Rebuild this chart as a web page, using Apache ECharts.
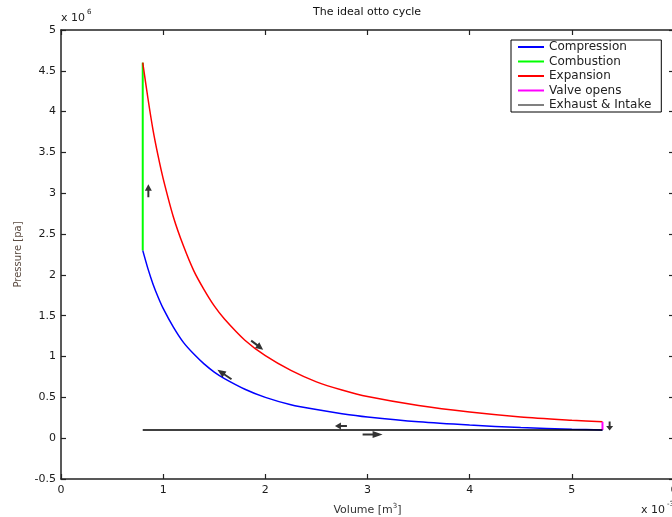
<!DOCTYPE html>
<html><head><meta charset="utf-8">
<script src="https://cdn.jsdelivr.net/npm/echarts@6/dist/echarts.min.js"></script>
<style>html,body{margin:0;padding:0;background:#fff}#c{width:672px;height:517px}</style>
</head><body><div id="c"></div>
<script>
// Volume in units of 1e-3 m^3, pressure in units of 1e6 Pa
const volume       = [0.8, 0.85, 0.9, 0.95, 1.0, 1.1, 1.2, 1.3, 1.4, 1.5, 1.6, 1.8, 2.0, 2.25, 2.5, 2.75, 3.0, 3.5, 4.0, 4.5, 5.0, 5.3];
const compressionP = [2.30, 2.08, 1.89, 1.73, 1.59, 1.36, 1.17, 1.03, 0.91, 0.81, 0.73, 0.60, 0.50, 0.41, 0.35, 0.30, 0.26, 0.20, 0.16, 0.13, 0.11, 0.10];
const expansionP   = [4.60, 4.17, 3.78, 3.46, 3.18, 2.71, 2.35, 2.05, 1.82, 1.62, 1.46, 1.20, 1.01, 0.83, 0.69, 0.59, 0.51, 0.40, 0.32, 0.26, 0.22, 0.20];
const combustion    = [[0.8, 2.3], [0.8, 4.6]];
const valveOpens    = [[5.3, 0.2], [5.3, 0.1]];
const exhaustIntake = [[5.3, 0.1], [0.8, 0.1]];
// direction arrows: [volume, pressure, direction angle (deg, ccw from up)]
const arrows = [[0.855, 3.03, 0], [1.92, 1.14, -127], [1.60, 0.78, 56], [2.74, 0.15, 90], [3.05, 0.045, -90], [5.37, 0.15, 180]];
const arrowLen = [13, 15, 17, 12, 20, 9];
const seriesNames = ['Compression', 'Combustion', 'Expansion', 'Valve opens', 'Exhaust & Intake'];
const seriesColors = ['#0000ff', '#00ff00', '#ff0000', '#ff00ff', '#000000'];
const titleText = 'The ideal otto cycle';
const xName = 'Volume [m';
const yName = 'Pressure [pa]';

const FF = 'DejaVu Sans';
const chart = echarts.init(document.getElementById('c'), null, {renderer: 'canvas'});

const lineData = [
  volume.map((v, i) => [v, compressionP[i]]),
  combustion,
  volume.map((v, i) => [v, expansionP[i]]),
  valveOpens,
  exhaustIntake
];
const series = seriesNames.map((n, i) => ({
  name: n, type: 'line', data: lineData[i], showSymbol: false,
  smooth: (i === 0 || i === 2) ? 0.25 : false,
  color: seriesColors[i],
  lineStyle: {color: seriesColors[i], width: (i === 1 || i === 3) ? 2 : 1.5},
  z: 3, animation: false
}));
const arrowPath = 'path://M0,0 L5,7 L1.4,7 L1.4,14 L-1.4,14 L-1.4,7 L-5,7 Z';
series.push({
  type: 'scatter', silent: true, animation: false, z: 5,
  data: arrows.map((a, i) => ({
    value: [a[0], a[1]], symbol: arrowPath, symbolSize: [7, arrowLen[i]], symbolRotate: a[2]
  })),
  itemStyle: {color: '#000'}
});

const axisLineStyle = {color: '#222', width: 1.5};
const tickCommon = {show: true, inside: true, length: 5, lineStyle: {color: '#222', width: 1.2}};
const labelStyle = {color: '#1a1a1a', fontSize: 11, fontFamily: FF};

chart.setOption({
  animation: false,
  backgroundColor: '#fff',
  grid: {left: 61, right: -2, top: 30, bottom: 38, containLabel: false, outerBoundsMode: 'none'},
  legend: {
    orient: 'vertical', left: 511, top: 40,
    icon: 'rect', itemWidth: 26, itemHeight: 2, itemGap: 2.5,
    padding: [1, 10, 1, 7],
    borderColor: '#000', borderWidth: 1, backgroundColor: '#fff',
    textStyle: {fontSize: 12, lineHeight: 12, fontFamily: FF, color: '#222'},
    data: seriesNames.map((n, i) => i === 4 ? {name: n, itemStyle: {color: '#808080'}} : {name: n}),
    selectedMode: false
  },
  xAxis: [
    {type: 'value', min: 0, max: 6, interval: 1, position: 'bottom',
     axisLine: {show: true, onZero: false, lineStyle: axisLineStyle}, axisTick: tickCommon,
     axisLabel: Object.assign({margin: 6}, labelStyle), splitLine: {show: false},
     name: '{a|' + xName + '}{s|3}{a|]}', nameLocation: 'middle', nameGap: 24,
     nameTextStyle: {rich: {a: {fontSize: 11, fontFamily: FF, color: '#333', lineHeight: 14},
                            s: {fontSize: 7, fontFamily: FF, color: '#333', verticalAlign: 'top', lineHeight: 8}}}},
    {type: 'value', min: 0, max: 6, interval: 1, position: 'top',
     axisLine: {show: true, onZero: false, lineStyle: axisLineStyle}, axisTick: tickCommon,
     axisLabel: {show: false}, splitLine: {show: false}}
  ],
  yAxis: [
    {type: 'value', min: -0.5, max: 5, interval: 0.5, position: 'left',
     axisLine: {show: true, onZero: false, lineStyle: axisLineStyle}, axisTick: tickCommon,
     axisLabel: Object.assign({margin: 5}, labelStyle), splitLine: {show: false},
     name: yName, nameLocation: 'middle', nameGap: 36, nameRotate: 90,
     nameTextStyle: {fontSize: 10, fontFamily: FF, color: '#5a4a40'}},
    {type: 'value', min: -0.5, max: 5, interval: 0.5, position: 'right',
     axisLine: {show: true, onZero: false, lineStyle: axisLineStyle}, axisTick: tickCommon,
     axisLabel: {show: false}, splitLine: {show: false}}
  ],
  graphic: [
    {type: 'text', x: 367, y: 12, style: {text: titleText, fill: '#111', font: '11px "DejaVu Sans"', textAlign: 'center', textVerticalAlign: 'middle'}},
    {type: 'text', x: 61, y: 18, style: {text: 'x 10', fill: '#222', font: '11px "DejaVu Sans"', textAlign: 'left', textVerticalAlign: 'middle'}},
    {type: 'text', x: 87, y: 12, style: {text: '6', fill: '#222', font: '7px "DejaVu Sans"', textAlign: 'left', textVerticalAlign: 'middle'}},
    {type: 'text', x: 641, y: 510, style: {text: 'x 10', fill: '#222', font: '11px "DejaVu Sans"', textAlign: 'left', textVerticalAlign: 'middle'}},
    {type: 'text', x: 667, y: 504, style: {text: '-3', fill: '#222', font: '7px "DejaVu Sans"', textAlign: 'left', textVerticalAlign: 'middle'}}
  ],
  series: series
});
</script></body></html>
